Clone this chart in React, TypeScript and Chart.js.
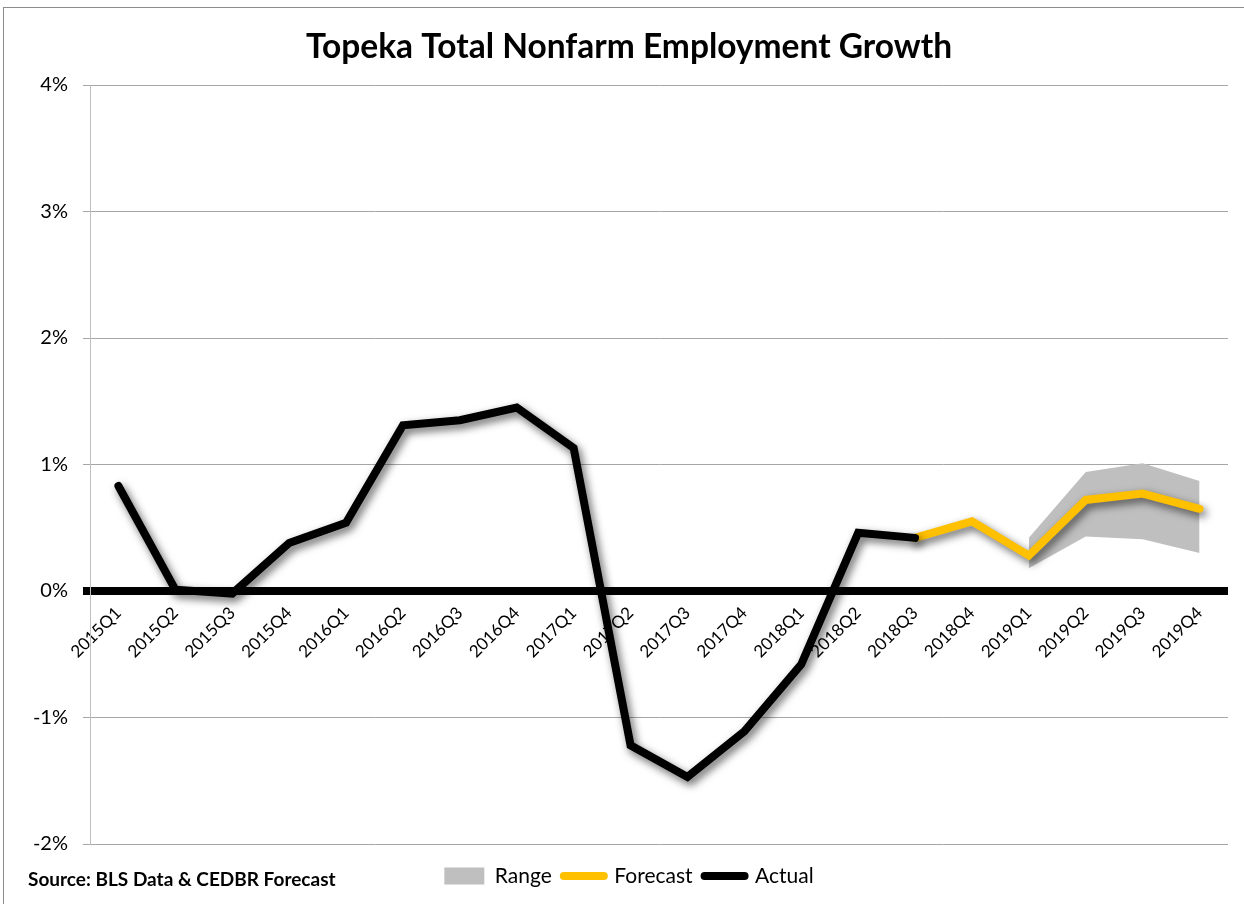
import React, { useEffect, useRef } from 'react';
import { Chart, registerables } from 'chart.js';

Chart.register(...registerables);

const categories = [
  '2015Q1', '2015Q2', '2015Q3', '2015Q4',
  '2016Q1', '2016Q2', '2016Q3', '2016Q4',
  '2017Q1', '2017Q2', '2017Q3', '2017Q4',
  '2018Q1', '2018Q2', '2018Q3', '2018Q4',
  '2019Q1', '2019Q2', '2019Q3', '2019Q4',
];

const actual = [
  0.83, 0.01, -0.02, 0.38,
  0.54, 1.31, 1.35, 1.45,
  1.13, -1.22, -1.47, -1.11,
  -0.58, 0.46, 0.42, null,
  null, null, null, null,
];

const forecast = [
  null, null, null, null,
  null, null, null, null,
  null, null, null, null,
  null, null, 0.42, 0.55,
  0.28, 0.72, 0.77, 0.65,
];

const rangeLow = [
  null, null, null, null,
  null, null, null, null,
  null, null, null, null,
  null, null, null, null,
  0.18, 0.43, 0.41, 0.30,
];

const rangeHigh = [
  null, null, null, null,
  null, null, null, null,
  null, null, null, null,
  null, null, null, null,
  0.42, 0.94, 1.01, 0.87,
];

const yTicks = [-2, -1, 0, 1, 2, 3, 4];

const titleText = 'Topeka Total Nonfarm Employment Growth';
const sourceText = 'Source: BLS Data & CEDBR Forecast';
const legendNames = ['Range', 'Forecast', 'Actual'];

const FONT = 'Lato, "Open Sans", sans-serif';
const GOLD = '#FFC000';
const GREY_FILL = '#BFBFBF';

const shadowPlugin = {
  id: 'lineShadow',
  beforeDatasetDraw(chart: any, args: any) {
    const ds: any = chart.data.datasets[args.index];
    if (ds && (ds.label === legendNames[1] || ds.label === legendNames[2])) {
      const ctx = chart.ctx;
      ctx.save();
      ctx.shadowColor = 'rgba(0,0,0,0.6)';
      ctx.shadowBlur = 8;
      ctx.shadowOffsetX = 3;
      ctx.shadowOffsetY = 4;
    }
  },
  afterDatasetDraw(chart: any, args: any) {
    const ds: any = chart.data.datasets[args.index];
    if (ds && (ds.label === legendNames[1] || ds.label === legendNames[2])) {
      chart.ctx.restore();
    }
  },
};

export default function App() {
  const ref = useRef<HTMLCanvasElement | null>(null);

  useEffect(() => {
    if (!ref.current) return;
    const chart = new Chart(ref.current, {
      type: 'line',
      data: {
        labels: categories,
        datasets: [
          {
            label: legendNames[2],
            data: actual,
            borderColor: '#000000',
            backgroundColor: '#000000',
            borderWidth: 8,
            pointRadius: 0,
            borderJoinStyle: 'miter',
            borderCapStyle: 'round',
            fill: false,
            tension: 0,
          } as any,
          {
            label: legendNames[1],
            data: forecast,
            borderColor: GOLD,
            backgroundColor: GOLD,
            borderWidth: 8,
            pointRadius: 0,
            borderJoinStyle: 'miter',
            borderCapStyle: 'round',
            fill: false,
            tension: 0,
          } as any,
          {
            label: 'RangeLow',
            data: rangeLow,
            borderColor: 'rgba(0,0,0,0)',
            backgroundColor: 'rgba(0,0,0,0)',
            borderWidth: 0,
            pointRadius: 0,
            fill: false,
            tension: 0,
          } as any,
          {
            label: legendNames[0],
            data: rangeHigh,
            borderColor: 'rgba(0,0,0,0)',
            backgroundColor: GREY_FILL,
            borderWidth: 0,
            pointRadius: 0,
            fill: '-1',
            tension: 0,
          } as any,
        ],
      },
      options: {
        animation: false,
        responsive: false,
        maintainAspectRatio: false,
        layout: { padding: { left: 30, right: 16, top: 0, bottom: 7.5 } },
        plugins: {
          title: {
            display: true,
            text: titleText,
            color: '#000',
            font: { family: FONT, size: 33.5, weight: 'bold', lineHeight: 1.2 },
            padding: { top: 26.9, bottom: 17.9 },
          },
          legend: {
            display: true,
            position: 'bottom',
            align: 'center',
            title: { display: true, text: '', padding: 0, font: { size: 10, lineHeight: 0.95 } },
            labels: {
              usePointStyle: true,
              pointStyleWidth: 40,
              boxHeight: 17,
              padding: 12,
              color: '#000',
              font: { family: FONT, size: 21 },
              generateLabels: () => [
                { text: legendNames[0], fillStyle: GREY_FILL, strokeStyle: GREY_FILL, lineWidth: 0, pointStyle: 'rect', hidden: false, datasetIndex: 3, fontColor: '#000' },
                { text: legendNames[1], fillStyle: GOLD, strokeStyle: GOLD, lineWidth: 8, lineCap: 'round', pointStyle: 'line', hidden: false, datasetIndex: 1, fontColor: '#000' },
                { text: legendNames[2], fillStyle: '#000', strokeStyle: '#000', lineWidth: 8, lineCap: 'round', pointStyle: 'line', hidden: false, datasetIndex: 0, fontColor: '#000' },
              ] as any,
            },
          },
          tooltip: { enabled: false },
        },
        scales: {
          x: {
            type: 'category',
            offset: true,
            position: { y: 0 } as any,
            grid: { display: false, drawTicks: false },
            border: { display: false },
            ticks: {
              color: '#000',
              font: { family: FONT, size: 17 },
              minRotation: 45,
              maxRotation: 45,
              autoSkip: false,
              padding: 12,
            },
          },
          y: {
            min: -2,
            max: 4,
            afterFit: (s: any) => { s.width = 60; },
            afterBuildTicks: (s: any) => { s.ticks = yTicks.map((v) => ({ value: v })); },
            grid: {
              color: (c: any) => (c.tick && c.tick.value === 0 ? '#000000' : '#A6A6A6'),
              lineWidth: (c: any) => (c.tick && c.tick.value === 0 ? 8 : 1),
              tickLength: 7,
              drawTicks: true,
            },
            border: { display: true, color: '#BFBFBF', width: 1 },
            ticks: {
              color: '#000',
              font: { family: FONT, size: 20 },
              padding: 15,
              callback: (v: any) => `${v}%`,
            },
          },
        },
      } as any,
      plugins: [shadowPlugin],
    });
    return () => chart.destroy();
  }, []);

  return (
    <div style={{ position: 'fixed', left: 0, top: 0, width: 1244, height: 904, overflow: 'hidden', background: '#fff' }}>
      <div style={{ position: 'absolute', left: 3, top: 7, width: 1280, height: 940, border: '1px solid #8C8C8C', boxSizing: 'border-box' }} />
      <canvas ref={ref} width={1244} height={904} style={{ position: 'absolute', left: 0, top: 0, width: 1244, height: 904 }} />
      <div style={{ position: 'absolute', left: 28, top: 867, fontFamily: FONT, fontWeight: 'bold', fontSize: 19, color: '#000', whiteSpace: 'nowrap' }}>{sourceText}</div>
    </div>
  );
}
